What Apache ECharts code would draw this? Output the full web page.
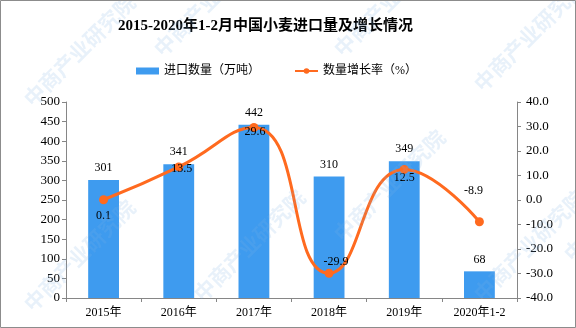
<!DOCTYPE html>
<html>
<head>
<meta charset="utf-8">
<script src="https://cdn.jsdelivr.net/npm/echarts@6/dist/echarts.min.js"></script>
<style>
html,body{margin:0;padding:0;background:#fff;}
#chart{width:576px;height:328px;}
</style>
</head>
<body>
<div id="chart"></div>
<script>
// 2015-2020年1-2月中国小麦进口量及增长情况
const categories = ['2015年', '2016年', '2017年', '2018年', '2019年', '2020年1-2'];
const importVolume = [301, 341, 442, 310, 349, 68];        // 万吨
const growthRate = [0.1, 13.5, 29.6, -29.9, 12.5, -8.9];    // %
const leftTicks = { min: 0, max: 500, interval: 50 };
const rightTicks = { min: -40, max: 40, interval: 10 };

// label offsets for the growth-rate labels (px, relative to each point)
const rateLabelOffsets = [[0, 16], [3, 2], [1, 4], [7, -11], [0, 8], [-6, -31]];

const chart = echarts.init(document.getElementById('chart'));
const axisGray = '#868686';
const font = '"Liberation Serif", "Noto Sans CJK SC", serif';

// repeating watermark text
const marks = [];
const markSpots = [[20, 95], [150, 45], [190, 290], [330, 230], [330, 45], [470, 80], [470, 290], [20, 300], [560, 250]];
markSpots.forEach(p => {
  marks.push({
    type: 'text', x: p[0], y: p[1], rotation: Math.PI / 4, z: 100, silent: true,
    style: { text: '中商产业研究院', fill: 'rgba(130,180,225,0.18)', font: 'bold 21px "Noto Sans CJK SC"' }
  });
});

chart.setOption({
  animation: false,
  backgroundColor: '#fff',
  title: {
    text: '2015-2020年1-2月中国小麦进口量及增长情况',
    left: 113, top: 14,
    textStyle: { fontSize: 15, fontWeight: 'bold', color: '#000', fontFamily: font }
  },
  legend: {
    top: 60, left: 131, itemGap: 34,
    textStyle: { fontSize: 12, color: '#000', fontFamily: font },
    data: [
      { name: '进口数量（万吨）', icon: 'rect' },
      { name: '数量增长率（%）' }
    ],
    itemWidth: 23, itemHeight: 7
  },
  grid: { left: 66, right: 59, top: 102, bottom: 30 },
  xAxis: {
    type: 'category', data: categories,
    axisLine: { lineStyle: { color: axisGray } },
    axisTick: { show: true, alignWithLabel: false, length: 4, lineStyle: { color: axisGray } },
    axisLabel: { color: '#000', fontSize: 12, fontFamily: font, margin: 9 }
  },
  yAxis: [
    {
      type: 'value', min: leftTicks.min, max: leftTicks.max, interval: leftTicks.interval,
      axisLine: { show: true, lineStyle: { color: axisGray } },
      axisTick: { show: true, length: 4, lineStyle: { color: axisGray } },
      splitLine: { show: false },
      axisLabel: { color: '#000', fontSize: 13, fontFamily: font, margin: 6 }
    },
    {
      type: 'value', min: rightTicks.min, max: rightTicks.max, interval: rightTicks.interval,
      axisLine: { show: true, lineStyle: { color: axisGray } },
      axisTick: { show: true, length: 4, lineStyle: { color: axisGray } },
      splitLine: { show: false },
      axisLabel: { color: '#000', fontSize: 13, fontFamily: font, margin: 9, formatter: v => v.toFixed(1) }
    }
  ],
  series: [
    {
      name: '进口数量（万吨）', type: 'bar', yAxisIndex: 0, barWidth: '41%',
      data: importVolume,
      itemStyle: { color: '#3E9BEF' },
      label: { show: true, position: 'top', color: '#000', fontSize: 12, fontFamily: font, distance: 6 }
    },
    {
      name: '数量增长率（%）', type: 'line', yAxisIndex: 1, smooth: 0.5,
      data: growthRate.map((v, i) => ({
        value: v,
        label: { offset: rateLabelOffsets[i] }
      })),
      symbol: 'circle', symbolSize: 9,
      lineStyle: { color: '#FF6A1F', width: 3 },
      itemStyle: { color: '#FF6A1F' },
      label: { show: true, position: 'inside', color: '#000', fontSize: 12, fontFamily: font, formatter: p => p.value.toFixed(1) },
      z: 5
    }
  ],
  graphic: marks.concat([{
    type: 'rect', silent: true, z: 101,
    shape: { x: 0.5, y: 0.5, width: 575, height: 327 },
    style: { fill: 'none', stroke: '#8c8c8c', lineWidth: 1 }
  }])
});
</script>
</body>
</html>
